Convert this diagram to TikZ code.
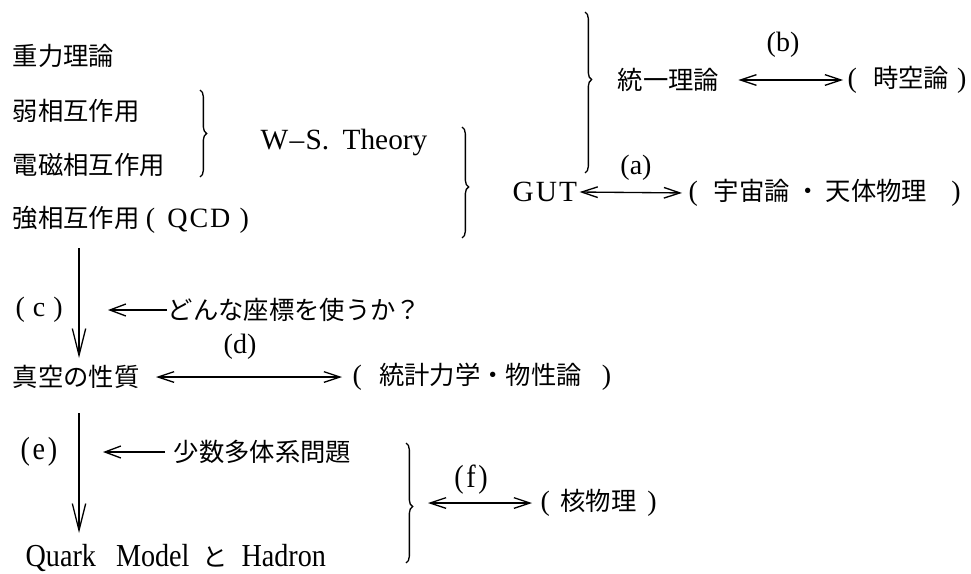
\documentclass[tikz,border=0pt]{standalone}
\usepackage{fontspec}
\setmainfont{Liberation Serif}
\newfontfamily\jp{Noto Sans CJK JP}
\newfontfamily\cond[FakeStretch=0.88]{Liberation Serif}
\usetikzlibrary{arrows.meta,decorations.pathreplacing}
\newcommand\lpar{{\rmfamily\fontsize{21}{21}\selectfont(}}
\newcommand\rpar{{\rmfamily\fontsize{21}{21}\selectfont)}}
\begin{document}
\begin{tikzpicture}[x=0.75pt,y=-0.75pt,line width=1pt,
  jtxt/.style={anchor=west,inner sep=0pt,font=\jp\fontsize{19}{19}\selectfont},
  ltxt/.style={inner sep=0pt,font=\fontsize{22}{22}\selectfont},
  lbl/.style={inner sep=0pt,font=\fontsize{21}{21}\selectfont},
  ctxt/.style={inner sep=0pt,font=\cond\fontsize{24}{24}\selectfont},
  dbl/.style={{Straight Barb[length=12pt,width=8pt]}-{Straight Barb[length=12pt,width=8pt]}},
  larr/.style={-{Straight Barb[length=12pt,width=9pt]}},
  varr/.style={-{Straight Barb[length=20pt,width=10pt]}},
  brc/.style={decorate,decoration={brace,amplitude=5pt,aspect=#1}},
]
\useasboundingbox (0,0) rectangle (971,574);

% left column
\node[jtxt] (grav) at (12,56) {重力理論};
\node[jtxt] (weak) at (12,111) {弱相互作用};
\node[jtxt] (elm) at (12,165) {電磁相互作用};
\node[jtxt] (strong) at (12,220) {強相互作用\hspace{5pt}{\rmfamily\fontsize{21}{21}\selectfont(\hspace{9pt}Q\hspace{1.5pt}C\hspace{1.5pt}D\hspace{7pt})}};

% W-S theory
\node[ltxt,anchor=base west] (ws) at (260,150) {W\hspace{1pt}--\hspace{1pt}S.\hspace{10pt}Theory};

% braces
\draw[brc=0.5] (200,90) -- (200,177);
\draw[brc=0.54] (462,127) -- (462,238);
\draw[brc=0.42] (585,12) -- (585,173);

% unified theory
\node[jtxt] (unify) at (617,80) {統一理論};
\node[jtxt] (spacetime) at (847,80) {\lpar\hspace{12pt}時空論\hspace{6pt}\rpar};
\node[lbl] (lb) at (783,45) {(b)};
\draw[dbl,shorten <=14pt,shorten >=3pt] (unify.east) -- (spacetime.west);

% GUT
\node[ltxt,anchor=west] (gut) at (512,192) {G\hspace{1.5pt}U\hspace{1.5pt}T};
\node[jtxt] (cosmo) at (688,193) {\lpar\hspace{12pt}宇宙論\hspace{4pt}・\hspace{4pt}天体物理\hspace{18pt}\rpar};
\node[lbl] (la) at (636,168) {(a)};
\draw[dbl,shorten <=1.5pt,shorten >=4.5pt] (gut.east) -- (cosmo.west);

% (c) arrow
\coordinate (cTop) at (79,248);
\coordinate (cBot) at (79,358);
\draw[varr] (cTop) -- (cBot);
\node[lbl,anchor=west] (lc) at (15,310) {(\hspace{6pt}c\hspace{6pt})};
\node[jtxt] (coordq) at (167,310) {どんな座標を使うか？};
\coordinate (cqEnd) at (108,310);
\draw[larr] (coordq.west) -- (cqEnd);

% vacuum
\node[jtxt] (vac) at (12,377) {真空の性質};
\node[jtxt] (stat) at (352,377) {\lpar\hspace{13pt}統計力学・物性論\hspace{15pt}\rpar};
\node[lbl] (ld) at (240,347) {(d)};
\draw[dbl,shorten <=12pt,shorten >=7.5pt] (vac.east) -- (stat.west);

% (e) arrow
\coordinate (eTop) at (79,413);
\coordinate (eBot) at (79,533);
\draw[varr] (eTop) -- (eBot);
\node[ctxt,anchor=west] (le) at (20,452) {(\hspace{2pt}e\hspace{2pt})};
\node[jtxt] (few) at (173,452) {少数多体系問題};
\coordinate (fewEnd) at (103,452);
\draw[larr,shorten <=6pt] (few.west) -- (fewEnd);

% nuclear
\draw[brc=0.53] (406,443) -- (406,563);
\coordinate (ftip) at (416,503);
\node[jtxt] (nuc) at (540,503) {\lpar\hspace{8pt}核物理\hspace{8pt}\rpar};
\node[ctxt] (lf) at (471,480) {(\hspace{2pt}f\hspace{2pt})};
\draw[dbl,shorten <=9pt,shorten >=6pt] (ftip) -- (nuc.west);

% quark model
\node[ctxt,anchor=base west] (quark) at (25,566) {Quark\hspace{15pt}Model\hspace{10pt}{\jp\fontsize{19}{19}\selectfont と}\hspace{10pt}Hadron};
\end{tikzpicture}
\end{document}
